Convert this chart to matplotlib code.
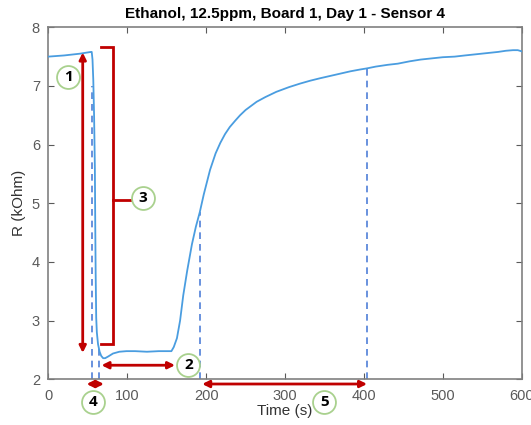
import matplotlib.pyplot as plt

# sensor trace
time_s = [0, 20, 40, 54, 55, 56, 57, 58, 59, 59.5, 60, 60.7, 61.5, 63, 65, 67,
          69.5, 72, 76, 82, 90, 99, 110, 125, 140, 150, 156, 159, 163, 167, 171,
          176, 182, 187, 192, 197, 205, 212, 218, 224, 230, 237, 243, 250, 257,
          264, 275, 289, 305, 319, 332, 344, 357, 370, 383, 395, 404, 415, 430,
          443, 458, 472, 486, 500, 515, 528, 542, 556, 570, 580, 589, 595, 600]
r_kohm = [7.50, 7.52, 7.55, 7.58, 7.58, 7.45, 7.10, 6.50, 5.60, 4.60, 3.80, 3.05,
          2.80, 2.60, 2.47, 2.40, 2.36, 2.36, 2.39, 2.44, 2.47, 2.48, 2.48, 2.47,
          2.48, 2.48, 2.48, 2.55, 2.70, 3.00, 3.43, 3.85, 4.30, 4.60, 4.85, 5.15,
          5.57, 5.85, 6.03, 6.18, 6.30, 6.41, 6.50, 6.59, 6.66, 6.73, 6.81, 6.90,
          6.98, 7.04, 7.09, 7.13, 7.17, 7.21, 7.25, 7.28, 7.30, 7.33, 7.36, 7.38,
          7.42, 7.45, 7.47, 7.49, 7.50, 7.52, 7.54, 7.56, 7.58, 7.60, 7.61, 7.61, 7.59]

# dashed markers: time and top of the line
marker_t = [55.7, 64.3, 192.5, 404]
marker_top = [7.0, 2.52, 4.85, 7.30]

# numbered circles
label_text = ['1', '2', '3', '4', '5']
label_t = [25, 177.6, 119.6, 57, 349.8]
label_r = [7.15, 2.24, 5.09, 1.61, 1.61]

# double arrows: (t0, r0, t1, r1)
arrows = [
    (43.6, 2.45, 43.6, 7.57),
    (67.4, 2.24, 160.6, 2.24),
    (48.5, 1.92, 70.5, 1.92),
    (195.0, 1.92, 404.0, 1.92),
]

title = 'Ethanol, 12.5ppm, Board 1, Day 1 - Sensor 4'
RED = '#c00000'
GREEN = '#a9d18e'
GRAY = '#5a5a5a'

plt.rcParams['font.family'] = ['Liberation Sans', 'DejaVu Sans']

fig = plt.figure(figsize=(5.31, 4.25), dpi=100)
ax = fig.add_axes([0.091, 0.1075, 0.8915, 0.8283])

for t, top in zip(marker_t, marker_top):
    ax.plot([t, t], [2, top], color='#4f7fd8', lw=1.2, ls=(0, (4, 3)), zorder=2)

ax.plot(time_s, r_kohm, color='#4a9de0', lw=1.3, zorder=3)

for t0, r0, t1, r1 in arrows:
    ax.annotate('', xy=(t1, r1), xytext=(t0, r0), annotation_clip=False,
                arrowprops=dict(arrowstyle='<|-|>', color=RED, lw=2,
                                mutation_scale=10, shrinkA=0, shrinkB=0))

# bracket for region 3
ax.plot([66.4, 81.6, 81.6, 66.4], [7.66, 7.66, 2.61, 2.61], color=RED, lw=2,
        solid_joinstyle='miter', zorder=4)
ax.plot([81.6, 105.6], [5.05, 5.05], color=RED, lw=2, zorder=4)

for txt, t, r in zip(label_text, label_t, label_r):
    ax.plot(t, r, 'o', ms=16.5, mfc='white', mec=GREEN, mew=1.3,
            clip_on=False, zorder=5)
    ax.text(t, r, txt, ha='center', va='center', fontsize=11,
            fontweight='bold', family=['Open Sans', 'DejaVu Sans'], zorder=6)

ax.set_xlim(0, 600)
ax.set_ylim(2, 8)
ax.set_xticks([0, 100, 200, 300, 400, 500, 600])
ax.set_yticks([2, 3, 4, 5, 6, 7, 8])
ax.tick_params(direction='in', top=True, right=True, length=4, colors=GRAY,
               labelsize=10.5, labelcolor=GRAY)
ax.tick_params(axis='x', pad=7)
ax.tick_params(axis='y', pad=6)
for s in ax.spines.values():
    s.set_color('#808080')
    s.set_linewidth(1.2)

ax.set_title(title, fontsize=11, fontweight='bold', pad=7)
ax.set_xlabel('Time (s)', fontsize=11, color='#333333', labelpad=1)
ax.set_ylabel('R (kOhm)', fontsize=11, color='#333333', labelpad=4)

fig.savefig('out.png', dpi=100)
